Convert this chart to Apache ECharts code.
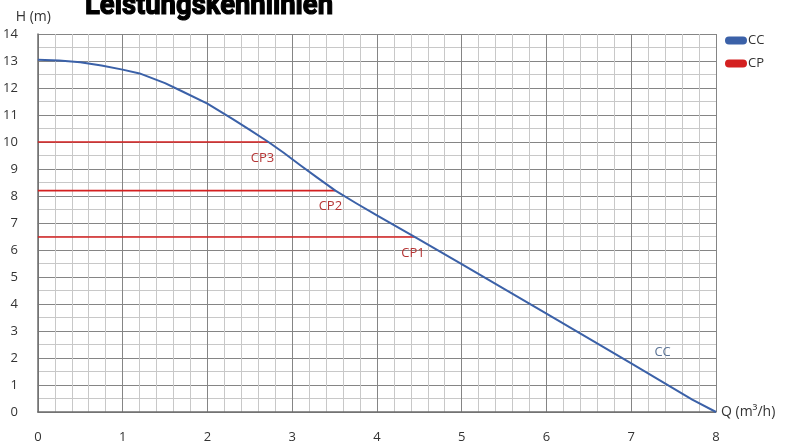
<!DOCTYPE html>
<html>
<head>
<meta charset="utf-8">
<script src="https://cdn.jsdelivr.net/npm/echarts@6/dist/echarts.min.js"></script>
<style>
  html, body { margin: 0; padding: 0; background: #fff; }
  #chart { width: 792px; height: 448px; }
</style>
</head>
<body>
<div id="chart"></div>
<script>
// Pump curve: flow Q (m³/h) vs head H (m)
const ccCurve = [
  [0, 13.05], [0.25, 13.02], [0.5, 12.95], [0.75, 12.83], [1, 12.68],
  [1.2, 12.54], [1.5, 12.18], [1.7, 11.88], [2.0, 11.42], [2.3, 10.85],
  [2.5, 10.45], [2.72, 10.0], [2.9, 9.6], [3.1, 9.13], [3.3, 8.67],
  [3.51, 8.2], [3.75, 7.74], [4.0, 7.28], [4.45, 6.48], [5.0, 5.48],
  [6.0, 3.64], [7.0, 1.8], [7.72, 0.46], [8.0, 0]
];
// Operating points (flow, head) for the three control levels
const cpNames = ['CP1', 'CP2', 'CP3'];
const cpFlow = [4.45, 3.51, 2.72];
const cpHead = [6.48, 8.2, 10];
const cpLabelShift = [-2, -5, -6];

const xTicks = [0, 1, 2, 3, 4, 5, 6, 7, 8];
const yTicks = [0, 1, 2, 3, 4, 5, 6, 7, 8, 9, 10, 11, 12, 13, 14];

const blue = '#3b61a8';
const red = '#d42020';
const pill = 'path://M4,0 L18,0 A4,4 0 0 1 18,8 L4,8 A4,4 0 0 1 4,0 Z';

// Heading: condensed look by measuring and squeezing a bold face to its box
const titleText = 'Leistungskennlinien';
const titleFont = 'bold 29px Roboto, "DejaVu Sans", sans-serif';
const titleWidth = 248;
const measureCtx = document.createElement('canvas').getContext('2d');
measureCtx.font = titleFont;
const titleScale = titleWidth / measureCtx.measureText(titleText).width;

const chart = echarts.init(document.getElementById('chart'), null, { renderer: 'canvas' });

const cpSeries = cpNames.map((n, i) => ({
  name: 'CP',
  type: 'line',
  symbol: 'none',
  z: 3,
  lineStyle: { color: red, width: 1.6 },
  itemStyle: { color: red },
  data: [[0, cpHead[i]], [cpFlow[i], cpHead[i]]],
  markPoint: {
    symbol: 'circle',
    symbolSize: 0,
    silent: true,
    data: [{
      coord: [cpFlow[i], cpHead[i]],
      label: {
        show: true,
        formatter: n,
        position: 'inside',
        offset: [cpLabelShift[i], 16],
        color: '#b53434',
        fontFamily: 'Open Sans',
        fontSize: 13
      }
    }]
  }
}));

const majorLine = { show: true, lineStyle: { color: '#858585', width: 1 } };
const minorLine = { show: true, lineStyle: { color: '#c8c8c8', width: 1 } };

chart.setOption({
  animation: false,
  backgroundColor: '#fff',
  textStyle: { fontFamily: 'Open Sans' },
  graphic: [{
    type: 'text',
    x: 85,
    y: -8,
    scaleX: titleScale,
    originX: 0,
    z: 10,
    style: {
      text: titleText,
      font: titleFont,
      fill: '#000',
      stroke: '#000',
      lineWidth: 1.2
    }
  }],
  legend: {
    orient: 'vertical',
    left: 725,
    top: 34,
    padding: 0,
    itemWidth: 22,
    itemHeight: 8,
    itemGap: 10,
    textStyle: { fontSize: 13, color: '#333', padding: [0, 0, 0, -4] },
    data: [
      { name: 'CC', icon: pill, itemStyle: { color: blue } },
      { name: 'CP', icon: pill, itemStyle: { color: red } }
    ]
  },
  grid: { left: 37, right: 76, top: 34, bottom: 36, containLabel: false },
  xAxis: {
    type: 'value',
    min: 0, max: 8, interval: 1,
    name: 'Q (m³/h)',
    nameLocation: 'end',
    nameGap: 5,
    nameTextStyle: { fontSize: 14, color: '#333', verticalAlign: 'middle', align: 'left' },
    axisLine: { show: true, lineStyle: { color: '#6e6e6e', width: 1.5 } },
    axisTick: { show: false },
    axisLabel: {
      fontSize: 13, color: '#333', margin: 19,
      customValues: xTicks,
      formatter: v => String(v)
    },
    splitLine: majorLine,
    minorTick: { show: true, splitNumber: 5, length: 0, lineStyle: { color: 'rgba(0,0,0,0)' } },
    minorSplitLine: minorLine
  },
  yAxis: {
    type: 'value',
    min: 0, max: 14, interval: 1,
    name: 'H (m)',
    nameLocation: 'end',
    nameGap: 10,
    nameTextStyle: { fontSize: 14, color: '#333', align: 'center', padding: [0, 9, 0, 0] },
    axisLine: { show: true, lineStyle: { color: '#6e6e6e', width: 1.5 } },
    axisTick: { show: false },
    axisLabel: {
      fontSize: 13, color: '#333', margin: 20,
      customValues: yTicks,
      formatter: v => String(v)
    },
    splitLine: majorLine,
    minorTick: { show: true, splitNumber: 2, length: 0, lineStyle: { color: 'rgba(0,0,0,0)' } },
    minorSplitLine: minorLine
  },
  series: [
    {
      name: 'CC',
      type: 'line',
      symbol: 'none',
      smooth: false,
      z: 4,
      lineStyle: { color: blue, width: 2, join: 'round' },
      itemStyle: { color: blue },
      data: ccCurve,
      markPoint: {
        symbol: 'circle',
        symbolSize: 0,
        silent: true,
        data: [{
          coord: [7.37, 2.2],
          label: {
            show: true,
            formatter: 'CC',
            position: 'inside',
            color: '#5b7395',
            fontSize: 13,
            fontFamily: 'Open Sans'
          }
        }]
      }
    },
    ...cpSeries
  ]
});
</script>
</body>
</html>
